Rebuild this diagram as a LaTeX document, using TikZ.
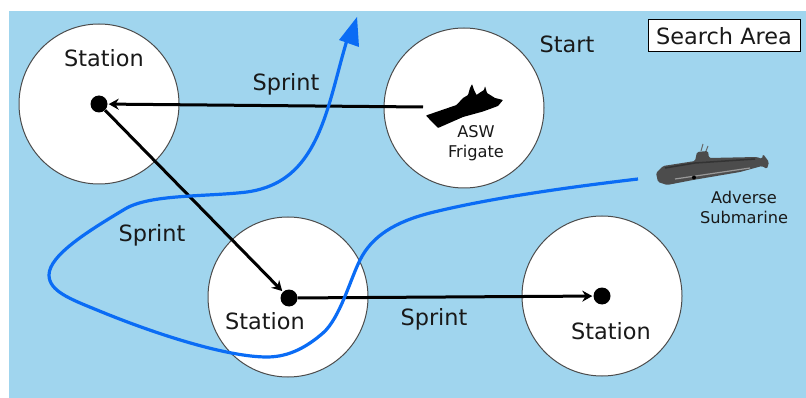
\documentclass[tikz,border=0pt]{standalone}
\usepackage{fontspec}
\setmainfont{DejaVu Sans}
\usetikzlibrary{arrows.meta}
\definecolor{sea}{HTML}{A0D5EE}
\definecolor{track}{HTML}{0A6CF5}
\tikzset{
  zone/.style={circle,draw=black!70,fill=white,line width=1pt,minimum size=160pt,inner sep=0pt},
  dot/.style={circle,fill=black,minimum size=17pt,inner sep=0pt},
  lbl/.style={font=\fontsize{22.4}{26}\selectfont,text=black!90,inner sep=0pt},
  small/.style={font=\fontsize{16.2}{20}\selectfont,text=black!90,align=center,inner sep=0pt},
  sprint/.style={line width=3pt,-{Stealth[length=10pt,width=11pt]},shorten >=1pt},
}
\begin{document}
\begin{tikzpicture}[x=1pt,y=-1pt]
\useasboundingbox (0,0) rectangle (806,398);
\fill[sea] (9,11) rectangle (806,398);
\node[zone] (z1) at (99,104) {};
\node[zone] (z2) at (464,108) {};
\node[zone] (z3) at (288,297) {};
\node[zone] (z4) at (602,296) {};
\node[dot] (s1) at (99,104) {};
\node[dot] (s2) at (289,298) {};
\node[dot] (s3) at (602,296) {};
\coordinate (f) at (423,107);
\coordinate (subtail) at (638,179);
\coordinate (tip) at (357,17);
\draw[sprint] (f) -- (s1);
\draw[sprint] (s1) -- (s2);
\draw[sprint] (s2) -- (s3);
% track
\draw[track,line width=3.2pt] (subtail)
  .. controls (570,187) and (490,198) .. (430,213)
  .. controls (395,222) and (372,236) .. (360,260)
  .. controls (350,280) and (340,318) .. (323,333)
  .. controls (308,346) and (290,357) .. (267,357)
  .. controls (225,357) and (150,332) .. (97,310)
  .. controls (70,299) and (49,291) .. (49,275)
  .. controls (49,255) and (90,230) .. (125,209)
  .. controls (150,194) and (205,197) .. (247,192)
  .. controls (275,188) and (295,175) .. (310,150)
  .. controls (328,120) and (335,80) .. (347,40);
\fill[track] (tip) -- (359,47) -- (339,40) -- cycle;
% frigate
\fill[black,rounded corners=0.6pt] (426,115.5) -- (456.5,105) -- (463,98) -- (468,95) -- (470,88) -- (472,84) -- (474,90) -- (476.5,95) -- (480,92.5) -- (484,90) -- (485,86) -- (487,93) -- (495,98) -- (503,100) -- (498,106) -- (483,111.5) -- (463,117) -- (438,128) -- (432,122) -- cycle;
% submarine
\fill[black!70,rounded corners=1.5pt] (656,173) -- (663,166) -- (695,161) -- (697,152) -- (708,151) -- (709,158) -- (757,157) -- (762,159) -- (763,154) -- (769,162) -- (767,169) -- (762,166) -- (740,172) -- (693,180) -- (667,185) -- (658,182) -- cycle;
\draw[black!80,line width=1.5pt] (665,168) -- (695,163) -- (755,159);
\draw[black!40,line width=1.2pt] (675,179) -- (750,168);
\draw[black!60,line width=1pt] (701,151) -- (703,144) (706,151) -- (708,146);
\fill[black] (694,177.5) circle (2pt);
% text
\node[lbl] (t1) at (104,58) {Station};
\node[lbl] (t2) at (265,321) {Station};
\node[lbl] (t3) at (611,331) {Station};
\node[lbl] (t4) at (286,84) {Sprint};
\node[lbl] (t5) at (152,235) {Sprint};
\node[lbl] (t6) at (434,319) {Sprint};
\node[lbl] (t7) at (567,44) {Start};
\node[small] (t8) at (476,143) {ASW\\Frigate};
\node[small] (t9) at (744,207) {Adverse\\Submarine};
\node[lbl,draw=black,fill=white,line width=1pt,minimum width=152pt,minimum height=32pt] (t10) at (724,36) {Search Area};
\end{tikzpicture}
\end{document}
